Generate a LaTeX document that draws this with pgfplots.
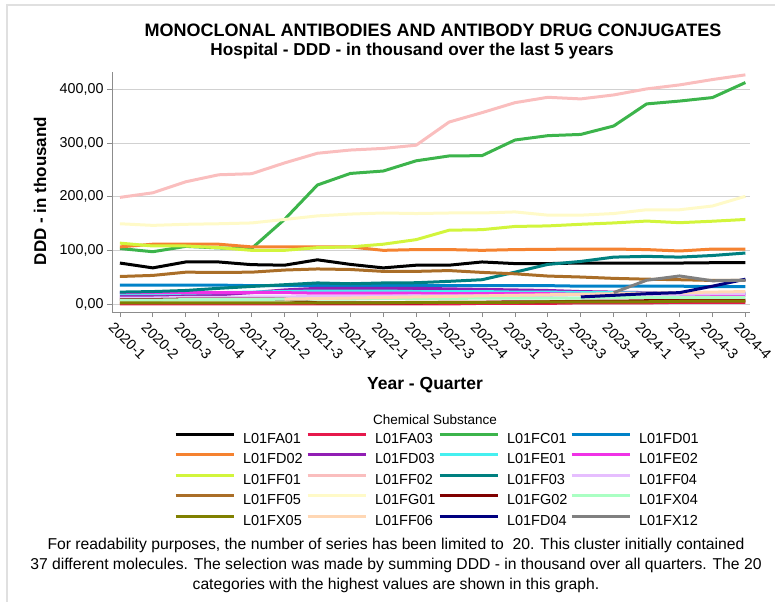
\documentclass[border=0pt]{standalone}
\usepackage{fontspec}
\setmainfont{Liberation Sans}
\usepackage{pgfplots}
\usepackage{pgfplotstable}
\pgfplotsset{compat=1.18}

\definecolor{cFA01}{RGB}{0,0,0}
\definecolor{cFA03}{RGB}{230,25,75}
\definecolor{cFC01}{RGB}{60,180,75}
\definecolor{cFD01}{RGB}{0,130,200}
\definecolor{cFD02}{RGB}{245,130,48}
\definecolor{cFD03}{RGB}{145,30,180}
\definecolor{cFE01}{RGB}{70,240,240}
\definecolor{cFE02}{RGB}{240,50,230}
\definecolor{cFF01}{RGB}{210,245,60}
\definecolor{cFF02}{RGB}{250,190,190}
\definecolor{cFF03}{RGB}{0,128,128}
\definecolor{cFF04}{RGB}{230,190,255}
\definecolor{cFF05}{RGB}{170,110,40}
\definecolor{cFG01}{RGB}{255,250,200}
\definecolor{cFG02}{RGB}{128,0,0}
\definecolor{cFX04}{RGB}{170,255,195}
\definecolor{cFX05}{RGB}{128,128,0}
\definecolor{cFF06}{RGB}{255,215,180}
\definecolor{cFD04}{RGB}{0,0,128}
\definecolor{cFX12}{RGB}{128,128,128}

% DDD in thousand, one row per quarter (0 = 2020-1 ... 19 = 2024-4)
\pgfplotstableread{
q FA01 FA03 FC01 FD01 FD02 FD03 FE01 FE02 FF01 FF02 FF03 FF04 FF05 FG01 FG02 FX04 FX05 FF06 FD04 FX12
0 77 1 104 36 107 15 20 22 114 199 23 12 52 150 9 8 3 nan nan nan
1 68 1 98 36 112 16 20 22 108.7 207.5 24 12 54 147 9 8 3 nan nan nan
2 79 1 108 36 112 17 21 22 108.7 228 26 13 60 149 10 9 3 nan nan nan
3 79 1 105 36 112 18 22 22 105.6 241 30 13 59.6 150 10 9 3 nan nan nan
4 74 1 104 35 107 22 23 22 100.6 243 33.5 14 60 151.5 10 9 3 nan nan nan
5 73 1 158 35 107 27 24 22 100.6 263 36.7 14 64 158 10 10 3 10 nan nan
6 83 1 222 35 107 30 25 21 105.6 281 40 15 66 164.6 3 10 3 11 nan nan
7 74.5 1 243.5 35 107 30 25 21 107 287 38.5 15 65 168 3 10 3 12 nan nan
8 68 1 248 35 100.6 30 25 21 112 290 40 15 61.5 170 3 11 3 13 nan nan
9 73 1 267 35 102 30 24 21 120.5 296 40.4 16 61.5 169 3 11 4 14 nan nan
10 73 1 276 35 102 29 24 20 138 339 43 16 63 170 4 11 4 15 nan nan
11 79 2 276.6 35 100.6 28 24 20 139 356.5 46 16 59.6 170 4 12 4 16 nan nan
12 76 2 305.6 35 102 27 23 20 145 375 60 17 57 172 5 12 4 17 nan nan
13 76 2 313.7 35 102.5 26 23 20 146 385 74.5 17 52.8 166 5 12 5 18 nan nan
14 77 3 316 34 103 24 22 19 149 382 80 18 51 166 6 12 5 19 14 nan
15 77 3 331.7 34 103 23 22 19 151.5 389.4 88 18 48.5 169 6 13 5 20 17 22
16 77 3 372.7 34 102 22 21 18 155 400.6 89.4 19 47 176 7 13 5 21 20 45
17 77 4 378 34 99.4 22 21 18 152 408 88 19 46 176 7 13 6 22 22 53
18 77.6 4 384.5 33 103 21 20 17 154.7 418 91 20 44.7 183 8 13 6 23 34 44
19 77.6 4 412.4 33 103 21 20 17 158 426.7 95.6 20 44.7 201 8 13 6 24 47 45
}\ddd

\begin{document}
\begin{tikzpicture}
\useasboundingbox (0,0) rectangle (775pt,-602pt);
\draw[black!12, line width=2pt] (7pt,-602pt) -- (7pt,-5pt) -- (775pt,-5pt);

\node[anchor=base, font=\bfseries\fontsize{18}{21}\selectfont] at (433pt,-37pt)
  {MONOCLONAL ANTIBODIES AND ANTIBODY DRUG CONJUGATES};
\node[anchor=base, font=\bfseries\fontsize{17.2}{20}\selectfont] at (412pt,-56pt)
  {Hospital - DDD - in thousand over the last 5 years};
\node[rotate=90, font=\bfseries\fontsize{17}{20}\selectfont] at (40pt,-191pt)
  {DDD - in thousand};
\node[font=\bfseries\fontsize{17.5}{20}\selectfont] at (425pt,-385pt)
  {Year - Quarter};
\node[font=\fontsize{13.5}{16}\selectfont] at (435pt,-420pt) {Chemical Substance};

\begin{axis}[
  at={(112pt,-312pt)}, anchor=south west,
  scale only axis, width=638pt, height=240pt,
  xmin=-0.24, xmax=19.14, ymin=-14, ymax=432,
  axis x line*=bottom, axis y line*=left,
  axis line style={draw=black!45, line width=0.8pt},
  tick style={draw=black!45, line width=0.8pt},
  tick align=outside, major tick length=5pt,
  ymajorgrids, grid style={black!18, line width=0.8pt},
  xtick={0,...,19},
  xticklabels={2020-1,2020-2,2020-3,2020-4,2021-1,2021-2,2021-3,2021-4,2022-1,2022-2,
    2022-3,2022-4,2023-1,2023-2,2023-3,2023-4,2024-1,2024-2,2024-3,2024-4},
  x tick label style={rotate=-45, anchor=north west, xshift=-4pt, yshift=-3pt,
    font=\fontsize{14.5}{16}\selectfont},
  ytick={0,100,200,300,400},
  y tick label style={font=\fontsize{14.3}{16}\selectfont},
  /pgf/number format/assume math mode=true,
  yticklabel={\pgfmathprintnumber[fixed,fixed zerofill,precision=2,use comma,1000 sep={}]{\tick}},
  no markers,
  every axis plot/.append style={line width=3pt, line join=round},
  legend columns=4,
  legend cell align=left,
  legend image code/.code={\draw (0pt,5pt) -- (58pt,5pt);},
  legend style={at={(axis description cs:0.0972,-0.4946)}, anchor=north west,
    draw=none, fill=none, inner sep=0pt, outer sep=0pt,
    font=\fontsize{14.5}{16}\selectfont, row sep=3pt,
    nodes={inner sep=2pt, text height=10.5pt, text depth=3pt, text width=58pt},
    /tikz/every odd column/.style={column sep=6pt},
    /tikz/every even column/.style={column sep=3pt}},
]
\addplot[color=cFA01] table[x=q, y=FA01] {\ddd}; \addlegendentry{L01FA01}
\addplot[color=cFA03] table[x=q, y=FA03] {\ddd}; \addlegendentry{L01FA03}
\addplot[color=cFC01] table[x=q, y=FC01] {\ddd}; \addlegendentry{L01FC01}
\addplot[color=cFD01] table[x=q, y=FD01] {\ddd}; \addlegendentry{L01FD01}
\addplot[color=cFD02] table[x=q, y=FD02] {\ddd}; \addlegendentry{L01FD02}
\addplot[color=cFD03] table[x=q, y=FD03] {\ddd}; \addlegendentry{L01FD03}
\addplot[color=cFE01] table[x=q, y=FE01] {\ddd}; \addlegendentry{L01FE01}
\addplot[color=cFE02] table[x=q, y=FE02] {\ddd}; \addlegendentry{L01FE02}
\addplot[color=cFF01] table[x=q, y=FF01] {\ddd}; \addlegendentry{L01FF01}
\addplot[color=cFF02] table[x=q, y=FF02] {\ddd}; \addlegendentry{L01FF02}
\addplot[color=cFF03] table[x=q, y=FF03] {\ddd}; \addlegendentry{L01FF03}
\addplot[color=cFF04] table[x=q, y=FF04] {\ddd}; \addlegendentry{L01FF04}
\addplot[color=cFF05] table[x=q, y=FF05] {\ddd}; \addlegendentry{L01FF05}
\addplot[color=cFG01] table[x=q, y=FG01] {\ddd}; \addlegendentry{L01FG01}
\addplot[color=cFG02] table[x=q, y=FG02] {\ddd}; \addlegendentry{L01FG02}
\addplot[color=cFX04] table[x=q, y=FX04] {\ddd}; \addlegendentry{L01FX04}
\addplot[color=cFX05] table[x=q, y=FX05] {\ddd}; \addlegendentry{L01FX05}
\addplot[color=cFF06] table[x=q, y=FF06] {\ddd}; \addlegendentry{L01FF06}
\addplot[color=cFD04] table[x=q, y=FD04] {\ddd}; \addlegendentry{L01FD04}
\addplot[color=cFX12] table[x=q, y=FX12] {\ddd}; \addlegendentry{L01FX12}
\end{axis}

\node[align=center, font=\fontsize{15.7}{20.2}\selectfont] at (396pt,-565.5pt)
  {For readability purposes, the number of series has been limited to\ \ 20. This cluster initially contained\\
   37 different molecules. The selection was made by summing DDD - in thousand over all quarters. The 20\\
   categories with the highest values are shown in this graph.};
\end{tikzpicture}
\end{document}
